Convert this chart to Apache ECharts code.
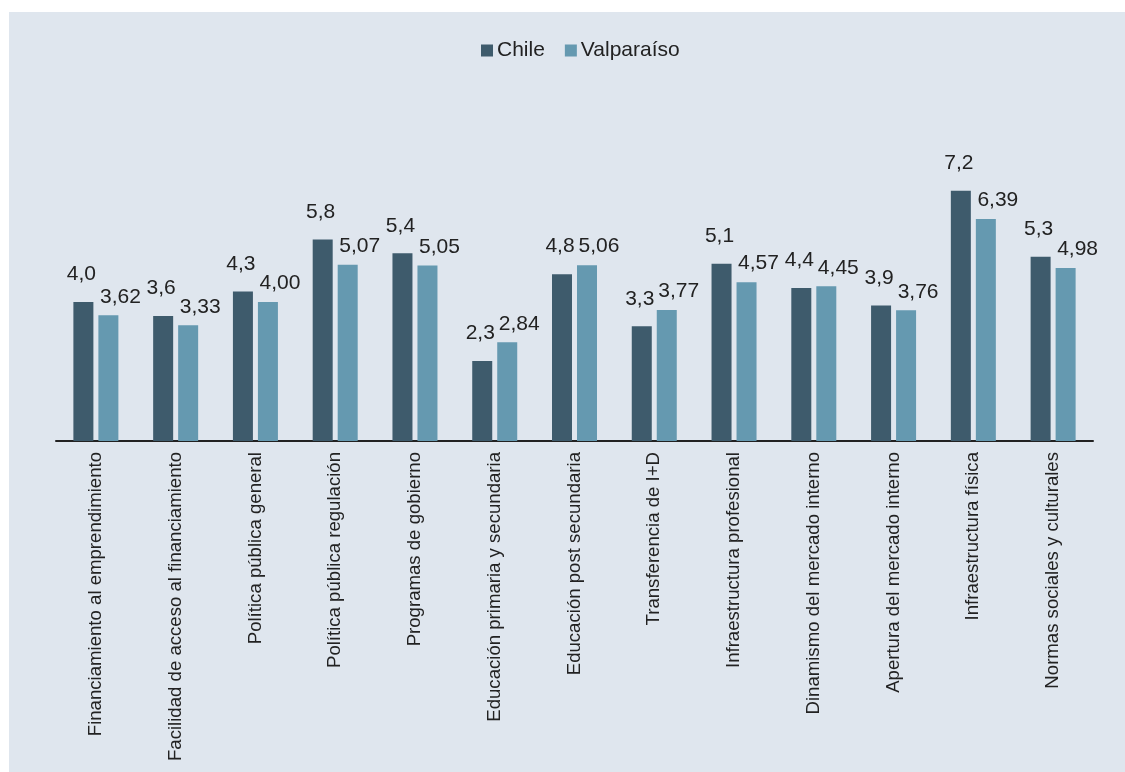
<!DOCTYPE html>
<html>
<head>
<meta charset="utf-8">
<script src="https://cdn.jsdelivr.net/npm/echarts@6/dist/echarts.min.js"></script>
<style>
  html, body { margin: 0; padding: 0; background: #ffffff; }
  #chart { width: 1125px; height: 772px; }
</style>
</head>
<body>
<div id="chart"></div>
<script>
var categories = [
  'Financiamiento al emprendimiento',
  'Facilidad de acceso al financiamiento',
  'Política pública general',
  'Política pública regulación',
  'Programas de gobierno',
  'Educación primaria y secundaria',
  'Educación post secundaria',
  'Transferencia de I+D',
  'Infraestructura profesional',
  'Dinamismo del mercado interno',
  'Apertura del mercado interno',
  'Infraestructura física',
  'Normas sociales y culturales'
];
var chile = [4.0, 3.6, 4.3, 5.8, 5.4, 2.3, 4.8, 3.3, 5.1, 4.4, 3.9, 7.2, 5.3];
var valparaiso = [3.62, 3.33, 4.00, 5.07, 5.05, 2.84, 5.06, 3.77, 4.57, 4.45, 3.76, 6.39, 4.98];

var textColor = '#222222';

// coma decimal, como en el original
function fmt(d) {
  return function (p) { return p.value.toFixed(d).replace('.', ','); };
}

var myChart = echarts.init(document.getElementById('chart'));
myChart.setOption({
  backgroundColor: '#ffffff',
  textStyle: { fontFamily: 'Liberation Sans, Arial, sans-serif' },
  graphic: [{
    type: 'rect',
    z: -10,
    shape: { x: 9, y: 12, width: 1116, height: 760 },
    style: { fill: '#dfe6ee' }
  }],
  legend: {
    top: 35,
    left: 476,
    icon: 'rect',
    itemWidth: 12,
    itemHeight: 12,
    itemGap: 20,
    textStyle: { color: textColor, fontSize: 21, padding: [0, 0, 0, -1] },
    data: ['Chile', 'Valparaíso']
  },
  grid: { left: 56, right: 32, top: 163, bottom: 331 },
  xAxis: {
    type: 'category',
    data: categories,
    axisLine: { lineStyle: { color: textColor, width: 2 } },
    axisTick: { show: false },
    axisLabel: {
      rotate: 90,
      interval: 0,
      margin: 11,
      color: textColor,
      fontSize: 18.6
    }
  },
  yAxis: {
    type: 'value',
    min: 0,
    max: 8,
    show: false,
    splitLine: { show: false }
  },
  series: [
    {
      name: 'Chile',
      type: 'bar',
      data: chile,
      barWidth: 20,
      barGap: '25%',
      itemStyle: { color: '#3e5b6c' },
      label: {
        show: true,
        position: 'top',
        distance: 17,
        offset: [-2, 0],
        color: textColor,
        fontSize: 21,
        formatter: fmt(1)
      }
    },
    {
      name: 'Valparaíso',
      type: 'bar',
      data: valparaiso,
      barWidth: 20,
      itemStyle: { color: '#6599b0' },
      label: {
        show: true,
        position: 'top',
        distance: 8,
        offset: [12, 0],
        color: textColor,
        fontSize: 21,
        formatter: fmt(2)
      }
    }
  ]
});
</script>
</body>
</html>
